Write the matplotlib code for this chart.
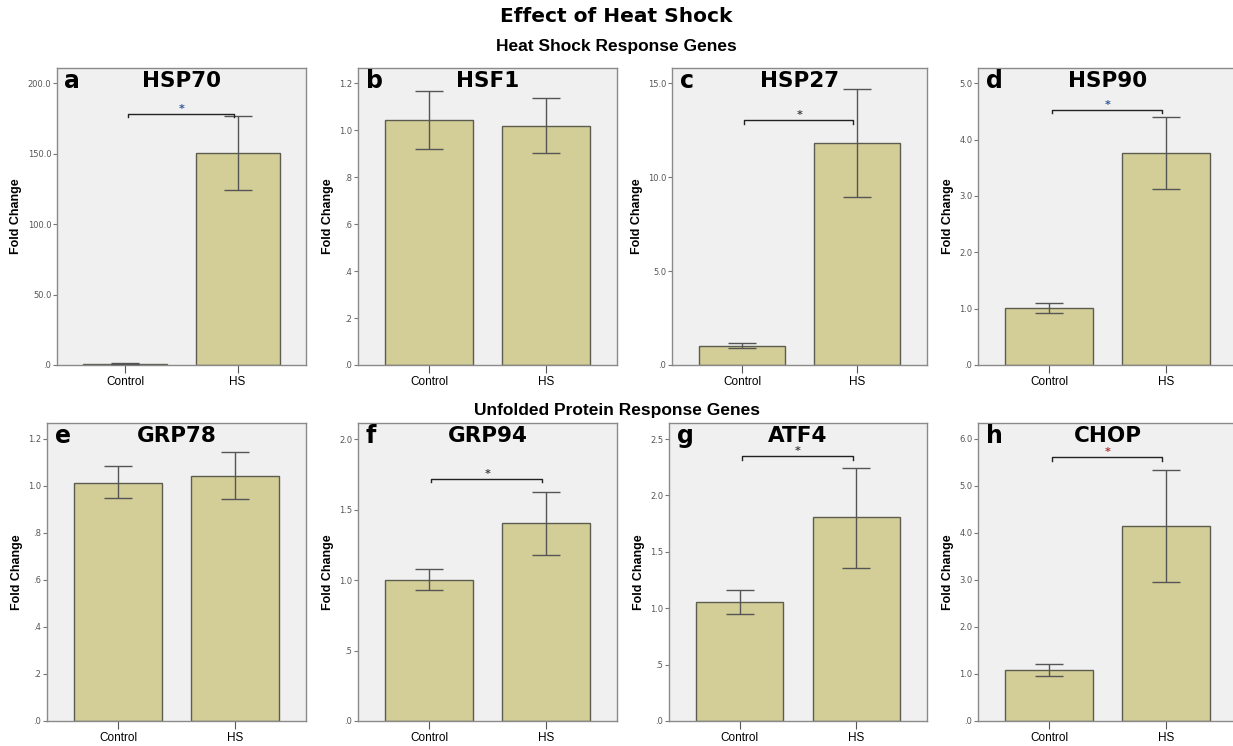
import matplotlib
matplotlib.use("Agg")
import matplotlib.pyplot as plt
import numpy as np
from matplotlib.ticker import FuncFormatter, MultipleLocator

groups = ["Control", "HS"]
letters = ["a", "b", "c", "d", "e", "f", "g", "h"]
genes = ["HSP70", "HSF1", "HSP27", "HSP90", "GRP78", "GRP94", "ATF4", "CHOP"]

# bar heights (Control, HS)
means = [[1.0, 150.5], [1.044, 1.020], [1.03, 11.8], [1.02, 3.76],
         [1.014, 1.043], [1.002, 1.403], [1.056, 1.805], [1.09, 4.15]]
# error bar lower / upper ends
err_lo = [[0.8, 124.2], [0.920, 0.903], [0.89, 8.94], [0.93, 3.12],
          [0.947, 0.946], [0.927, 1.18], [0.947, 1.36], [0.96, 2.95]]
err_hi = [[1.25, 176.8], [1.169, 1.138], [1.16, 14.68], [1.10, 4.40],
          [1.084, 1.143], [1.078, 1.626], [1.16, 2.246], [1.22, 5.345]]
# significance bracket height (None = no bracket)
brackets = [178.3, None, 13.03, 4.53, None, 1.718, 2.35, 5.61]
star_colors = ["#2f5597", None, "#404040", "#2f5597", None, "#404040", "#404040", "#b03030"]
y_max = [210.9, 1.265, 15.82, 5.27, 1.268, 2.114, 2.642, 6.34]
y_step = [50, 0.2, 5, 1, 0.2, 0.5, 0.5, 1]

W, H = 1233, 746
fig = plt.figure(figsize=(W / 100, H / 100), dpi=100)

# axes boxes in pixels: left, right, top, bottom
boxes = [(57, 306, 68, 365), (358, 617, 68, 365), (672, 927, 68, 365), (978, 1237, 68, 365),
         (47, 306, 423, 721), (358, 617, 423, 721), (669, 927, 423, 721), (978, 1237, 423, 721)]


def spss_fmt(v, pos):
    s = f"{v:.1f}"
    if s.startswith("0"):
        s = s[1:]
    return s


bar_color = "#d3ce98"
x = np.arange(2)

for i in range(8):
    l, r, t, b = boxes[i]
    ax = fig.add_axes([l / W, 1 - b / H, (r - l) / W, (b - t) / H])
    ax.set_facecolor("#f0f0f0")
    m = np.array(means[i])
    lo = m - np.array(err_lo[i])
    hi = np.array(err_hi[i]) - m
    ax.bar(x, m, width=0.75, color=bar_color, edgecolor="#5c5c50", linewidth=1.0, zorder=2)
    ax.errorbar(x, m, yerr=[lo, hi], fmt="none", ecolor="#555555", elinewidth=1.0,
                capsize=10, capthick=1.0, zorder=3)
    ax.set_xlim(-0.61, 1.61)
    ax.set_ylim(0, y_max[i])
    ax.yaxis.set_major_locator(MultipleLocator(y_step[i]))
    ax.yaxis.set_major_formatter(FuncFormatter(spss_fmt))
    ax.set_xticks(x)
    ax.set_xticklabels(groups, fontsize=8.5, family="Liberation Sans")
    ax.tick_params(axis="y", direction="out", length=3, width=0.8, labelsize=6,
                   labelcolor="#555555", color="#777777", pad=1)
    ax.tick_params(axis="x", direction="out", length=6, width=0.8, color="#555555", pad=2)
    for sp in ax.spines.values():
        sp.set_color("#8a8a8a")
        sp.set_linewidth(1.0)
    ax.set_ylabel("Fold Change", fontsize=9, fontweight="bold", family="Liberation Sans", labelpad=4)
    ax.text(0.03, 0.955, letters[i], transform=ax.transAxes, fontsize=17, fontweight="bold",
            family="DejaVu Sans", va="center", ha="left")
    ax.text(0.5, 0.955, genes[i], transform=ax.transAxes, fontsize=15.5, fontweight="bold",
            family="DejaVu Sans", va="center", ha="center")
    if brackets[i] is not None:
        yb = brackets[i]
        tick = y_max[i] * 0.012
        ax.plot([0.02, 0.02, 0.97, 0.97], [yb - tick, yb, yb, yb - tick], color="#222222",
                linewidth=1.0, zorder=4)
        ax.text(0.5, yb, "*", color=star_colors[i], fontsize=8, ha="center", va="bottom",
                fontweight="bold")

fig.text(0.5, 1 - 16 / H, "Effect of Heat Shock", ha="center", va="center", fontsize=14.5,
         fontweight="bold", family="DejaVu Sans")
fig.text(0.5, 1 - 46 / H, "Heat Shock Response Genes", ha="center", va="center", fontsize=12.5,
         fontweight="bold", family="Liberation Sans")
fig.text(0.5, 1 - 410 / H, "Unfolded Protein Response Genes", ha="center", va="center",
         fontsize=12.5, fontweight="bold", family="Liberation Sans")

fig.savefig("out.png", dpi=100, facecolor="white")
